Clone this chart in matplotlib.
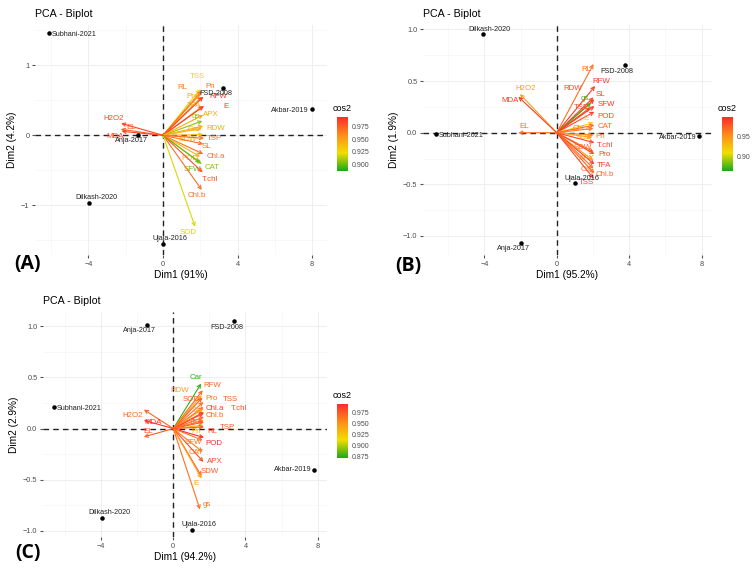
import numpy as np
import matplotlib.pyplot as plt
from matplotlib.colors import LinearSegmentedColormap, Normalize
from matplotlib.colorbar import ColorbarBase

plt.rcParams['font.family'] = ['Liberation Sans', 'DejaVu Sans']

# ---- data --------------------------------------------------------------
genotypes = ["Subhani-2021", "FSD-2008", "Akbar-2019", "Anja-2017", "Dilkash-2020", "Ujala-2016"]

# panel A
ind_a_x = [-6.1, 3.2, 8.0, -1.33, -3.95, 0.0]
ind_a_y = [1.46, 0.68, 0.37, 0.0, -0.97, -1.55]
var_a = ["TSS", "Pn", "RL", "Pro", "RFW", "TFA", "E", "gs", "APX", "Car", "RDW", "SDW",
         "TSP", "SL", "Chl.a", "POD", "CAT", "SFW", "T.chl", "Chl.b", "SOD", "H2O2", "EL", "MDA"]
var_a_x = [1.99, 2.08, 1.99, 2.08, 2.16, 2.13, 2.20, 2.11, 2.16, 2.08, 2.16, 2.16,
           2.20, 2.16, 2.16, 1.99, 2.08, 1.99, 2.13, 2.08, 1.72, -2.25, -2.27, -2.22]
var_a_y = [0.657, 0.638, 0.59, 0.552, 0.552, 0.419, 0.419, 0.205, 0.29, 0.10, 0.133, 0.01,
           -0.043, -0.124, -0.267, -0.305, -0.41, -0.39, -0.529, -0.78, -1.305, 0.171, 0.086, 0.057]
cos2_a = [0.92, 0.97, 0.965, 0.945, 0.99, 0.95, 0.99, 0.905, 0.945, 0.945, 0.945, 0.94,
          0.97, 0.97, 0.97, 0.94, 0.905, 0.90, 0.98, 0.97, 0.918, 0.985, 0.975, 0.985]

# panel B
ind_b_x = [-6.68, 3.75, 7.88, -1.97, -4.08, 1.01]
ind_b_y = [-0.013, 0.655, -0.032, -1.07, 0.955, -0.49]
var_b = ["RL", "RFW", "RDW", "SL", "gs", "TSP", "SFW", "POD", "E", "CAT", "Chl.a", "Pn",
         "SOD", "T.chl", "SDW", "Pro", "APX", "TFA", "Car", "Chl.b", "TSS", "H2O2", "MDA", "EL"]
var_b_x = [2.03, 2.12, 2.03, 2.08, 1.90, 1.85, 2.08, 2.08, 2.03, 2.08, 2.03, 2.03,
           1.94, 2.08, 2.03, 2.08, 1.99, 2.08, 2.03, 2.08, 2.03, -2.03, -2.12, -2.12]
var_b_y = [0.665, 0.452, 0.342, 0.323, 0.29, 0.245, 0.258, 0.203, 0.097, 0.074, 0.042, -0.023,
           -0.045, -0.097, -0.184, -0.206, -0.265, -0.306, -0.345, -0.394, -0.442, 0.374, 0.348, 0.0]
cos2_b = [0.965, 0.99, 0.985, 0.99, 0.87, 0.985, 0.99, 0.985, 0.915, 0.97, 0.96, 0.965,
          0.94, 0.985, 0.965, 0.985, 0.94, 0.99, 0.965, 0.97, 0.985, 0.94, 0.99, 0.965]

# panel C
ind_c_x = [-6.61, 3.39, 7.81, -1.48, -3.93, 1.02]
ind_c_y = [0.21, 1.05, -0.40, 1.016, -0.87, -0.99]
var_c = ["Car", "RFW", "RDW", "SOD", "Pro", "TSS", "SL", "Chl.a", "T.chl", "Chl.b", "TFA", "TSP",
         "Pn", "RL", "POD", "SFW", "CAT", "APX", "SDW", "E", "gs", "H2O2", "MDA", "EL"]
var_c_x = [1.54, 1.63, 1.57, 1.61, 1.67, 1.67, 1.67, 1.70, 1.70, 1.70, 1.67, 1.70,
           1.67, 1.70, 1.70, 1.63, 1.63, 1.67, 1.57, 1.57, 1.48, -1.63, -1.63, -1.63]
var_c_y = [0.44, 0.375, 0.326, 0.303, 0.26, 0.21, 0.195, 0.153, 0.163, 0.114, 0.081, 0.065,
           0.033, 0.016, -0.088, -0.114, -0.228, -0.326, -0.466, -0.489, -0.79, 0.186, 0.081, -0.081]
cos2_c = [0.875, 0.97, 0.94, 0.975, 0.965, 0.975, 0.94, 0.99, 0.98, 0.97, 0.965, 0.975,
          0.94, 0.975, 0.995, 0.965, 0.96, 0.98, 0.975, 0.94, 0.965, 0.97, 0.99, 0.975]

# ---- layout (label offsets in pixels, axes boxes) -----------------------
ind_off = {
    "A": [(25, -1), (-7, -6), (-22, -1), (-7, -5), (7, 6), (7, 5)],
    "B": [(25, -1), (-8, -6), (-22, -1), (-8, -5), (7, 5), (7, 5)],
    "C": [(25, -1), (-8, -6), (-21, 0), (-7, -6), (7, 5), (7, 5)],
}
var_off = {
    "A": [(-3, 13), (8, 4), (-18, 7), (-9, 0), (15, 0), (-9, 0), (22, -1), (-7, 4), (8, 1),
          (-8, -1), (12, -2), (-15, -5), (10, 0), (3, -3), (13, -3), (-10, -2), (10, -3),
          (-8, -7), (7, -7), (-5, -6), (-7, -6), (-7, 5), (10, 2), (-7, -5)],
    "B": [(-7, -5), (6, 5), (-21, 9), (6, 5), (-6, 4), (-9, 0), (12, 2), (12, -5), (-7, 4),
          (11, -1), (-12, 0), (7, -1), (-8, 0), (11, -3), (-11, 4), (10, -1), (-6, 2),
          (10, -1), (-7, -1), (10, -1), (-7, -4), (6, 6), (-8, -4), (6, 6)],
    "C": [(-5, 6), (10, 5), (-22, 5), (-11, -2), (8, 3), (27, 8), (-7, -2), (11, 4), (35, 3),
          (11, 1), (-7, -2), (24, -6), (-7, -6), (8, -5), (10, -6), (-9, -2), (-7, -1),
          (11, 0), (8, 5), (-6, -5), (7, 5), (-11, -6), (9, -2), (4, 5)],
}

W, H = 753, 568
fig = plt.figure(figsize=(W / 100, H / 100), dpi=100)
fig.patch.set_facecolor("white")

cmap = LinearSegmentedColormap.from_list("cos2", ["#1aa81a", "#f2de00", "#ff8c1a", "#ff2a2a"])


def box(l, t, r, b):
    return [l / W, 1 - b / H, (r - l) / W, (b - t) / H]


def panel(key, rect, xlim, ylim, yticks, ylabels, ymin_ticks, xlab, ylab,
          ix, iy, vn, vx, vy, cos2, crange, cbar_rect, cticks, clabels):
    ax = fig.add_axes(box(*rect))
    ax.set_xlim(xlim)
    ax.set_ylim(ylim)
    ax.set_xticks([-4, 0, 4, 8])
    ax.set_xticklabels(["\u22124", "0", "4", "8"])
    ax.set_xticks([-6, -2, 2, 6], minor=True)
    ax.set_yticks(yticks)
    ax.set_yticklabels(ylabels)
    ax.set_yticks(ymin_ticks, minor=True)
    ax.grid(True, which="major", color="#ebebeb", lw=0.6)
    ax.grid(True, which="minor", color="#f4f4f4", lw=0.4)
    ax.set_axisbelow(True)
    for s in ax.spines.values():
        s.set_visible(False)
    ax.tick_params(which="major", length=2, color="#555555", labelsize=5.3, labelcolor="#4d4d4d", pad=2)
    ax.tick_params(which="minor", length=0)
    ax.set_xlabel(xlab, fontsize=7.3, labelpad=2)
    ax.set_ylabel(ylab, fontsize=7.3, labelpad=3)
    ax.set_title("PCA - Biplot", loc="left", fontsize=7.7, pad=6)
    ax.axhline(0, color="#222222", ls=(0, (4, 3)), lw=1.0, zorder=1)
    ax.axvline(0, color="#222222", ls=(0, (4, 3)), lw=1.0, zorder=1)

    norm = Normalize(*crange)
    # individuals
    ax.scatter(ix, iy, s=5, color="black", zorder=4)
    for name, x, y, off in zip(genotypes, ix, iy, ind_off[key]):
        ax.annotate(name, (x, y), xytext=off, textcoords="offset pixels",
                    ha="center", va="center", fontsize=5.2, color="#222222", zorder=5)
    # variables
    for name, x, y, c, off in zip(vn, vx, vy, cos2, var_off[key]):
        col = cmap(norm(c))
        ax.annotate("", xy=(x, y), xytext=(0, 0),
                    arrowprops=dict(arrowstyle="->", color=col, lw=0.8,
                                    shrinkA=0, shrinkB=0, mutation_scale=6), zorder=3)
        ax.annotate(name, (x, y), xytext=off, textcoords="offset pixels",
                    ha="center", va="center", fontsize=5.7, color=col, zorder=3)

    cax = fig.add_axes(box(*cbar_rect))
    cb = ColorbarBase(cax, cmap=cmap, norm=norm, orientation="vertical")
    cb.outline.set_visible(False)
    cb.set_ticks(cticks)
    cb.set_ticklabels(clabels)
    cax.tick_params(length=0, labelsize=5, labelcolor="#4d4d4d", pad=3)
    cax.set_title("cos2", fontsize=6.5, pad=4)
    return ax


panel("A", (35, 25, 327, 255), (-6.87, 8.8), (-1.71, 1.576),
      [-1, 0, 1], ["\u22121", "0", "1"], [-1.5, -0.5, 0.5, 1.5],
      "Dim1 (91%)", "Dim2 (4.2%)", ind_a_x, ind_a_y, var_a, var_a_x, var_a_y, cos2_a,
      (0.886, 0.995), (337, 117, 348, 171),
      [0.9, 0.925, 0.95, 0.975], ["0.900", "0.925", "0.950", "0.975"])

panel("B", (423, 25, 712, 255), (-7.39, 8.58), (-1.184, 1.043),
      [-1, -0.5, 0, 0.5, 1], ["\u22121.0", "\u22120.5", "0.0", "0.5", "1.0"],
      [-0.75, -0.25, 0.25, 0.75],
      "Dim1 (95.2%)", "Dim2 (1.9%)", ind_b_x, ind_b_y, var_b, var_b_x, var_b_y, cos2_b,
      (0.8625, 0.9975), (722, 117, 733, 171),
      [0.9, 0.95], ["0.90", "0.95"])

panel("C", (43, 312, 327, 537), (-7.22, 8.52), (-1.06, 1.14),
      [-1, -0.5, 0, 0.5, 1], ["\u22121.0", "\u22120.5", "0.0", "0.5", "1.0"],
      [-0.75, -0.25, 0.25, 0.75],
      "Dim1 (94.2%)", "Dim2 (2.9%)", ind_c_x, ind_c_y, var_c, var_c_x, var_c_y, cos2_c,
      (0.871, 0.995), (337, 404, 348, 458),
      [0.875, 0.9, 0.925, 0.95, 0.975], ["0.875", "0.900", "0.925", "0.950", "0.975"])

for lab, x, y in [("(A)", 27, 264), ("(B)", 408, 266), ("(C)", 28, 553)]:
    fig.text(x / W, 1 - y / H, lab, fontsize=14, fontweight="bold",
             family=["Open Sans", "DejaVu Sans"], ha="center", va="center")

fig.savefig("out.png", dpi=100, facecolor="white")
